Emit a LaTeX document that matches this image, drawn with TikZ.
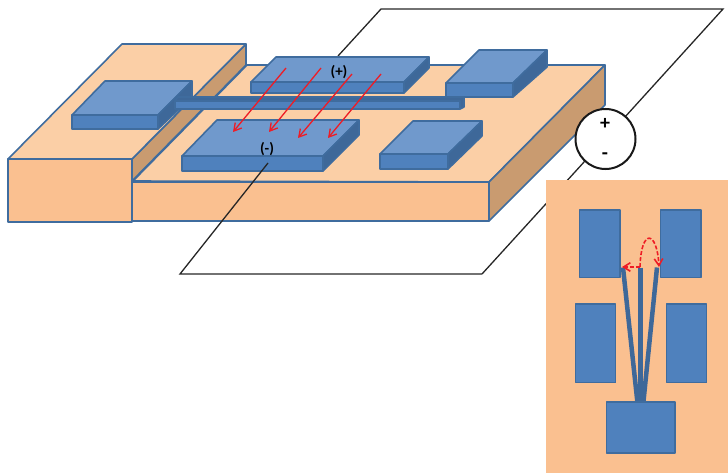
\documentclass[tikz,border=0pt]{standalone}
\usepackage{fontspec}
\setmainfont{Carlito}
\usepackage{xcolor}
\usetikzlibrary{arrows.meta}
\definecolor{subfront}{HTML}{FAC090}
\definecolor{subtop}{HTML}{FBCFA6}
\definecolor{subside}{HTML}{C99B70}
\definecolor{metfront}{HTML}{4F81BD}
\definecolor{mettop}{HTML}{7099CC}
\definecolor{metside}{HTML}{3E6899}
\definecolor{edgeblue}{HTML}{3F6C9E}
\definecolor{fieldred}{HTML}{EE1C25}
\begin{document}
\begin{tikzpicture}[
  x=1pt, y=-1pt,
  every node/.style={font=\fontsize{15}{17}\selectfont\bfseries},
  face/.style={draw=edgeblue, line width=1.6pt, line join=round},
  sfront/.style={face, fill=subfront},
  stop/.style={face, fill=subtop},
  sside/.style={face, fill=subside},
  mfront/.style={face, fill=metfront},
  mtop/.style={face, fill=mettop},
  mside/.style={face, fill=metside},
  wire/.style={draw=black!85, line width=1.3pt},
  field/.style={draw=fieldred, line width=1.3pt, -{Straight Barb[length=2.6mm,width=3mm]}},
  swing/.style={draw=fieldred, line width=1.6pt, dash pattern=on 4pt off 2pt, -{Straight Barb[length=2.4mm,width=3mm]}},
  finger/.style={draw=metside, line width=4.5pt}
]
\useasboundingbox (0,0) rectangle (728,473);

% voltage source and loop
\coordinate (tl) at (381,9);
\coordinate (tr) at (723,9);
\coordinate (bl) at (180,274);
\coordinate (br) at (482,274);
\coordinate (plusend) at (338,56);
\coordinate (minusend) at (268,163);
\draw[wire] (plusend) -- (tl) -- (tr) -- (605,139);
\draw[wire] (605,139) -- (br);

% substrate
\draw[stop] (133,181) -- (247,65) -- (605,65) -- (489,182) -- cycle;
\draw[sfront] (132,182) rectangle (489,221);
\draw[sside] (489,182) -- (605,65) -- (605,105) -- (489,221) -- cycle;

% raised block
\draw[sside] (132,159) -- (246,44) -- (246,65) -- (132,181) -- cycle;
\draw[stop] (8,159) -- (122,44) -- (246,44) -- (132,159) -- cycle;
\draw[sfront] (8,159) rectangle (132,222);

% back pads
\draw[mtop] (251,82) -- (276,57) -- (429,57) -- (404,82) -- cycle;
\draw[mfront] (251,82) rectangle (404,93);
\draw[mside] (404,82) -- (429,57) -- (429,68) -- (404,93) -- cycle;

\draw[mtop] (446,83) -- (479,50) -- (547,50) -- (513,83) -- cycle;
\draw[mfront] (446,83) rectangle (513,97);
\draw[mside] (513,83) -- (547,50) -- (547,67) -- (513,97) -- cycle;

% left pad
\draw[mtop] (72,115) -- (105,81) -- (192,81) -- (158,115) -- cycle;
\draw[mfront] (72,115) rectangle (158,129);
\draw[mside] (158,115) -- (192,81) -- (192,97) -- (158,129) -- cycle;

% gate bar
\draw[mside] (175,101) -- (178,97) -- (464,97) -- (464,107) -- (460,109) -- (460,101) -- cycle;
\draw[mfront] (175,101) rectangle (460,109);

% front pads
\draw[mtop] (182,156) -- (217,120) -- (359,120) -- (323,156) -- cycle;
\draw[mfront] (182,156) rectangle (323,171);
\draw[mside] (323,156) -- (359,120) -- (359,135) -- (323,171) -- cycle;

\draw[mtop] (380,154) -- (413,121) -- (482,121) -- (448,154) -- cycle;
\draw[mfront] (380,154) rectangle (448,169);
\draw[mside] (448,154) -- (482,121) -- (482,136) -- (448,169) -- cycle;

\draw[wire] (br) -- (bl) -- (minusend);

% field lines
\foreach \xa/\ya/\xb/\yb in {286/68/233/132, 321/68/269/132, 352/74/298/138, 381/74/328/138}
  \draw[field] (\xa,\ya) -- (\xb,\yb);

\node (plus) at (339,72) {(+)};
\node (minus) at (267,149) {(-)};

\node[draw=black!90, line width=2pt, circle, fill=white, minimum size=60pt, inner sep=0pt] (src) at (605.5,139) {};
\node[font=\fontsize{20}{22}\selectfont\bfseries, inner sep=0pt] (srcplus) at (605,124) {+};
\node[font=\fontsize{20}{22}\selectfont\bfseries, inner sep=0pt] (srcminus) at (605,156) {-};

% inset top view
\fill[subfront] (546,180) rectangle (728,473);
\foreach \xa/\ya/\xb/\yb in {579.5/210/620/277.5, 660.5/210/701/277.5, 575.5/304/615.5/382.5, 666.5/304/706.5/382.5}
  \draw[mfront] (\xa,\ya) rectangle (\xb,\yb);
\foreach \xa/\xb in {623/637.5, 640.3/640.3, 657/643.3}
  \draw[finger] (\xa,267.5) -- (\xb,403);
\draw[mfront] (606.5,402) rectangle (675,453);
\draw[swing] (640,267) -- (622,267);
\draw[swing] (640,267) .. controls (641,228) and (657,230) .. (659,267);
\end{tikzpicture}
\end{document}
